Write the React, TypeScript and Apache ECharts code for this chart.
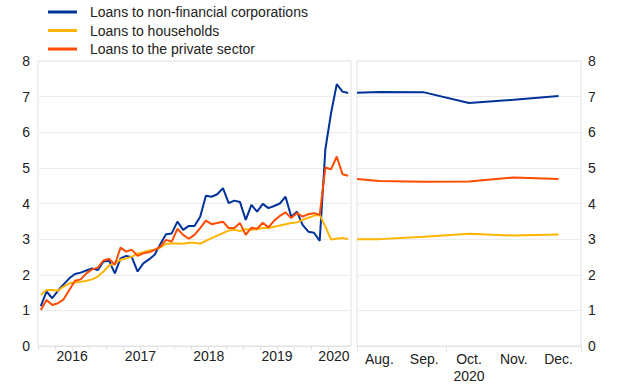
import React, { useEffect, useRef } from "react";
import * as echarts from "echarts";

// Monthly observations, Jan 2016 – Jul 2020 (index 0 = Jan 2016)
const yearLabels = ["2016", "2017", "2018", "2019", "2020"];

const nfcLoans = [
  1.12, 1.53, 1.34, 1.55, 1.73, 1.9, 2.02, 2.06, 2.12, 2.18, 2.13, 2.37,
  2.39, 2.04, 2.46, 2.53, 2.49, 2.09, 2.32, 2.43, 2.56, 2.86, 3.14, 3.16,
  3.49, 3.26, 3.37, 3.37, 3.63, 4.22, 4.19, 4.26, 4.43, 4.01, 4.08, 4.04,
  3.54, 3.96, 3.77, 3.99, 3.87, 3.93, 4.0, 4.19, 3.63, 3.77, 3.4, 3.21,
  3.18, 2.95, 5.53, 6.54, 7.35, 7.14, 7.1,
];
const householdLoans = [
  1.43, 1.57, 1.57, 1.55, 1.67, 1.76, 1.78, 1.8, 1.83, 1.87, 1.95, 2.09,
  2.26, 2.32, 2.42, 2.46, 2.51, 2.6, 2.63, 2.68, 2.7, 2.77, 2.87, 2.88,
  2.88, 2.87, 2.9, 2.9, 2.87, 2.95, 3.03, 3.1, 3.17, 3.24, 3.26, 3.23,
  3.28, 3.26, 3.28, 3.31, 3.31, 3.35, 3.38, 3.42, 3.45, 3.47, 3.54, 3.6,
  3.66, 3.68, 3.35, 2.99, 3.01, 3.03, 3.0,
];
const privateLoans = [
  1.01, 1.29, 1.15, 1.2, 1.31, 1.57, 1.83, 1.87, 2.04, 2.15, 2.2, 2.4,
  2.45, 2.28, 2.76, 2.65, 2.7, 2.53, 2.6, 2.63, 2.7, 2.79, 2.98, 2.93,
  3.29, 3.12, 3.01, 3.12, 3.31, 3.52, 3.42, 3.45, 3.49, 3.31, 3.31, 3.45,
  3.12, 3.32, 3.29, 3.46, 3.33, 3.52, 3.65, 3.75, 3.59, 3.73, 3.63, 3.7,
  3.73, 3.68, 5.01, 4.96, 5.32, 4.82, 4.78,
];

// Projection panel, Aug. – Dec. 2020 (first point = end of July)
const projMonthNum = [7.5, 8, 9, 10, 11, 12];
const projMonthLabels = ["Aug.", "Sep.", "Oct.", "Nov.", "Dec."];
const projYearLabel = "2020";
const projNfc = [7.11, 7.13, 7.12, 6.82, 6.91, 7.02];
const projPrivate = [4.69, 4.63, 4.61, 4.62, 4.73, 4.69];
const projHouseholds = [3.0, 3.0, 3.07, 3.15, 3.1, 3.13];

const seriesNames = [
  "Loans to non-financial corporations",
  "Loans to households",
  "Loans to the private sector",
];
const colors = ["#003299", "#ffb400", "#ff4b00"];

const TEXT = "#222";
const GRID_LINE = "#ececec";
const FRAME = "#e2e2e2";
const FONT = "'Liberation Sans', Arial, Helvetica, sans-serif";

export default function App() {
  const ref = useRef<HTMLDivElement>(null);

  useEffect(() => {
    if (!ref.current) return;
    const chart = echarts.init(ref.current, null, { renderer: "svg" });

    const n = nfcLoans.length;
    const yearLabelPos = yearLabels.map((_, k) =>
      k < yearLabels.length - 1 ? 12 * k + 5.5 : (12 * k + (n - 1)) / 2 + 0.5
    );
    const quarterTicks: number[] = [];
    for (let q = -0.5; q <= n - 0.5 + 1e-9; q += 3) quarterTicks.push(q);

    const leftSeries = [nfcLoans, householdLoans, privateLoans];
    const rightSeries = [projNfc, projHouseholds, projPrivate];

    const yAxisCommon = {
      type: "value" as const,
      min: 0,
      max: 8,
      interval: 1,
      axisLine: { show: false },
      axisTick: { show: false },
      splitLine: { show: true, lineStyle: { color: GRID_LINE, width: 1 } },
      axisLabel: { color: TEXT, fontSize: 14, fontFamily: FONT },
    };

    const option: any = {
      animation: false,
      textStyle: { fontFamily: FONT },
      legend: {
        orient: "vertical",
        left: 48,
        top: 4,
        padding: 0,
        itemWidth: 29,
        itemHeight: 3,
        itemGap: 2.5,
        icon: "rect",
        data: seriesNames,
        textStyle: {
          color: TEXT,
          fontSize: 14,
          fontFamily: FONT,
          lineHeight: 16,
          padding: [0, 0, 0, 8],
        },
      },
      grid: [
        {
          left: 38,
          top: 61,
          width: 313,
          height: 285,
          show: true,
          borderColor: FRAME,
          borderWidth: 1,
        },
        {
          left: 357,
          top: 61,
          width: 224,
          height: 285,
          show: true,
          borderColor: FRAME,
          borderWidth: 1,
        },
      ],
      xAxis: [
        {
          type: "value",
          gridIndex: 0,
          min: -0.5,
          max: n - 0.5,
          splitLine: { show: false },
          axisLine: { show: true, lineStyle: { color: FRAME } },
          axisTick: {
            show: true,
            customValues: quarterTicks,
            length: 4,
            lineStyle: { color: FRAME },
          },
          axisLabel: {
            customValues: yearLabelPos,
            formatter: (v: number) => {
              let best = 0;
              yearLabelPos.forEach((p, i) => {
                if (Math.abs(p - v) < Math.abs(yearLabelPos[best] - v)) best = i;
              });
              return yearLabels[best];
            },
            color: TEXT,
            fontSize: 14,
            fontFamily: FONT,
            margin: 3,
          },
        },
        {
          type: "value",
          gridIndex: 1,
          min: 7.5,
          max: 12.5,
          splitLine: { show: false },
          axisLine: { show: true, lineStyle: { color: FRAME } },
          axisTick: {
            show: true,
            customValues: [7.5, 9.5, 12.5],
            length: 6,
            lineStyle: { color: FRAME },
          },
          axisLabel: {
            customValues: [8, 9, 10, 11, 12],
            formatter: (v: number) => {
              const i = Math.round(v) - 8;
              const lbl = projMonthLabels[i] ?? "";
              return i === 2 ? lbl + "\n" + projYearLabel : lbl;
            },
            color: TEXT,
            fontSize: 14,
            fontFamily: FONT,
            lineHeight: 17,
            margin: 4,
            verticalAlign: "top",
          },
        },
      ],
      yAxis: [
        {
          ...yAxisCommon,
          gridIndex: 0,
          position: "left",
          axisLabel: { ...yAxisCommon.axisLabel, margin: 8 },
        },
        {
          ...yAxisCommon,
          gridIndex: 1,
          position: "right",
          axisLabel: { ...yAxisCommon.axisLabel, margin: 7 },
        },
      ],
      series: [
        ...leftSeries.map((arr, s) => ({
          name: seriesNames[s],
          type: "line",
          xAxisIndex: 0,
          yAxisIndex: 0,
          data: arr.map((v, i) => [i, v]),
          showSymbol: false,
          symbol: "none",
          color: colors[s],
          lineStyle: { width: 2, color: colors[s] },
          z: 2 + s,
        })),
        ...rightSeries.map((arr, s) => ({
          name: seriesNames[s],
          type: "line",
          xAxisIndex: 1,
          yAxisIndex: 1,
          data: arr.map((v, i) => [projMonthNum[i], v]),
          showSymbol: false,
          symbol: "none",
          color: colors[s],
          lineStyle: { width: 2, color: colors[s] },
          z: 2 + s,
        })),
      ],
    };

    chart.setOption(option);
    return () => chart.dispose();
  }, []);

  return (
    <div
      ref={ref}
      style={{
        position: "fixed",
        left: 0,
        top: 0,
        width: 620,
        height: 387,
        background: "#fff",
      }}
    />
  );
}
